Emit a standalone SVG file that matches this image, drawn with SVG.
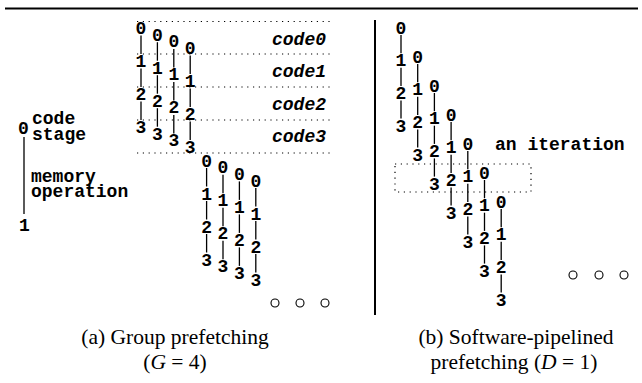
<svg xmlns="http://www.w3.org/2000/svg" width="642" height="383" viewBox="0 0 642 383">
<style>
.d{font-family:"Liberation Mono",monospace;font-weight:bold;font-size:18px;text-anchor:middle;fill:#000}
.l{font-family:"Liberation Mono",monospace;font-weight:bold;font-size:18px;fill:#000}
.c{font-family:"Liberation Mono",monospace;font-weight:bold;font-style:italic;font-size:18px;fill:#000}
.cap{font-family:"Liberation Serif",serif;font-size:21.5px;text-anchor:middle;fill:#000}
.dot{stroke:#000;stroke-width:1.2;stroke-dasharray:1.2 4.6;fill:none}
.cn line{stroke:#000;stroke-width:1.3}
.e{fill:none;stroke:#000;stroke-width:1.1}
.rule{stroke:#000;fill:none}
</style>
<line class="rule" x1="5" y1="8.5" x2="638" y2="8.5" stroke-width="2.2"/>
<line class="rule" x1="375" y1="20" x2="375" y2="315" stroke-width="2"/>

<g id="legend">
<text class="d" x="23.5" y="134">0</text>
<text class="d" x="24.5" y="231">1</text>
<text class="l" x="32" y="124">code</text>
<text class="l" x="32" y="140">stage</text>
<text class="l" x="31" y="182">memory</text>
<text class="l" x="31" y="197">operation</text>
</g>

<g id="stage-lines">
<line class="dot" x1="137" y1="21.5" x2="330" y2="21.5"/>
<line class="dot" x1="137" y1="54" x2="330" y2="54"/>
<line class="dot" x1="137" y1="87" x2="330" y2="87"/>
<line class="dot" x1="137" y1="120" x2="330" y2="120"/>
<line class="dot" x1="137" y1="153" x2="330" y2="153"/>
<text class="c" x="272" y="45">code0</text>
<text class="c" x="272" y="77">code1</text>
<text class="c" x="272" y="110">code2</text>
<text class="c" x="272" y="142">code3</text>
</g>

<g transform="translate(0 1)">
<g id="a-g0-i0"><text class="d" x="141" y="33">0</text><text class="d" x="141" y="66">1</text><text class="d" x="141" y="99">2</text><text class="d" x="141" y="132">3</text></g>
<g id="a-g0-i1"><text class="d" x="157.4" y="39.7">0</text><text class="d" x="157.4" y="72.7">1</text><text class="d" x="157.4" y="105.7">2</text><text class="d" x="157.4" y="138.7">3</text></g>
<g id="a-g0-i2"><text class="d" x="173.8" y="46.4">0</text><text class="d" x="173.8" y="79.4">1</text><text class="d" x="173.8" y="112.4">2</text><text class="d" x="173.8" y="145.4">3</text></g>
<g id="a-g0-i3"><text class="d" x="190.2" y="53.1">0</text><text class="d" x="190.2" y="86.1">1</text><text class="d" x="190.2" y="119.1">2</text><text class="d" x="190.2" y="152.1">3</text></g>
<g id="a-g1-i0"><text class="d" x="206.6" y="165.5">0</text><text class="d" x="206.6" y="198.5">1</text><text class="d" x="206.6" y="231.5">2</text><text class="d" x="206.6" y="264.5">3</text></g>
<g id="a-g1-i1"><text class="d" x="223" y="172.2">0</text><text class="d" x="223" y="205.2">1</text><text class="d" x="223" y="238.2">2</text><text class="d" x="223" y="271.2">3</text></g>
<g id="a-g1-i2"><text class="d" x="239.4" y="178.9">0</text><text class="d" x="239.4" y="211.9">1</text><text class="d" x="239.4" y="244.9">2</text><text class="d" x="239.4" y="277.9">3</text></g>
<g id="a-g1-i3"><text class="d" x="255.8" y="185.6">0</text><text class="d" x="255.8" y="218.6">1</text><text class="d" x="255.8" y="251.6">2</text><text class="d" x="255.8" y="284.6">3</text></g>

<g id="b-i0"><text class="d" x="401" y="32.5">0</text><text class="d" x="401" y="65.2">1</text><text class="d" x="401" y="97.9">2</text><text class="d" x="401" y="130.6">3</text></g>
<g id="b-i1"><text class="d" x="417.7" y="61.5">0</text><text class="d" x="417.7" y="94.2">1</text><text class="d" x="417.7" y="126.9">2</text><text class="d" x="417.7" y="159.6">3</text></g>
<g id="b-i2"><text class="d" x="434.4" y="90.5">0</text><text class="d" x="434.4" y="123.2">1</text><text class="d" x="434.4" y="155.9">2</text><text class="d" x="434.4" y="188.6">3</text></g>
<g id="b-i3"><text class="d" x="451.1" y="119.5">0</text><text class="d" x="451.1" y="152.2">1</text><text class="d" x="451.1" y="184.9">2</text><text class="d" x="451.1" y="217.6">3</text></g>
<g id="b-i4"><text class="d" x="467.8" y="148.5">0</text><text class="d" x="467.8" y="181.2">1</text><text class="d" x="467.8" y="213.9">2</text><text class="d" x="467.8" y="246.6">3</text></g>
<g id="b-i5"><text class="d" x="484.5" y="177.5">0</text><text class="d" x="484.5" y="210.2">1</text><text class="d" x="484.5" y="242.9">2</text><text class="d" x="484.5" y="275.6">3</text></g>
<g id="b-i6"><text class="d" x="501.2" y="206.5">0</text><text class="d" x="501.2" y="239.2">1</text><text class="d" x="501.2" y="271.9">2</text><text class="d" x="501.2" y="304.6">3</text></g>
</g>
<g id="a-more"><circle class="e" cx="275" cy="303" r="4"/><circle class="e" cx="300" cy="303" r="4"/><circle class="e" cx="325" cy="303" r="4"/></g>
<g id="b-iteration"><rect class="dot" x="395" y="164" width="136" height="28"/><text class="l" x="495" y="150">an iteration</text></g>
<g id="b-more"><circle class="e" cx="573" cy="275" r="4"/><circle class="e" cx="599" cy="275" r="4"/><circle class="e" cx="624" cy="275" r="4"/></g>

<g id="connectors" class="cn">
<line x1="24" y1="137" x2="24" y2="214"/>
<line x1="141" y1="35.5" x2="141" y2="54"/><line x1="141" y1="68.5" x2="141" y2="87"/><line x1="141" y1="101.5" x2="141" y2="120"/>
<line x1="157.4" y1="42.2" x2="157.4" y2="60.7"/><line x1="157.4" y1="75.2" x2="157.4" y2="93.7"/><line x1="157.4" y1="108.2" x2="157.4" y2="126.7"/>
<line x1="173.8" y1="48.9" x2="173.8" y2="67.4"/><line x1="173.8" y1="81.9" x2="173.8" y2="100.4"/><line x1="173.8" y1="114.9" x2="173.8" y2="133.4"/>
<line x1="190.2" y1="55.6" x2="190.2" y2="74.1"/><line x1="190.2" y1="88.6" x2="190.2" y2="107.1"/><line x1="190.2" y1="121.6" x2="190.2" y2="140.1"/>
<line x1="206.6" y1="168" x2="206.6" y2="186.5"/><line x1="206.6" y1="201" x2="206.6" y2="219.5"/><line x1="206.6" y1="234" x2="206.6" y2="252.5"/>
<line x1="223" y1="174.7" x2="223" y2="193.2"/><line x1="223" y1="207.7" x2="223" y2="226.2"/><line x1="223" y1="240.7" x2="223" y2="259.2"/>
<line x1="239.4" y1="181.4" x2="239.4" y2="199.9"/><line x1="239.4" y1="214.4" x2="239.4" y2="232.9"/><line x1="239.4" y1="247.4" x2="239.4" y2="265.9"/>
<line x1="255.8" y1="188.1" x2="255.8" y2="206.6"/><line x1="255.8" y1="221.1" x2="255.8" y2="239.6"/><line x1="255.8" y1="254.1" x2="255.8" y2="272.6"/>
<line x1="401" y1="35" x2="401" y2="53.2"/><line x1="401" y1="67.7" x2="401" y2="85.9"/><line x1="401" y1="100.4" x2="401" y2="118.6"/>
<line x1="417.7" y1="64" x2="417.7" y2="82.2"/><line x1="417.7" y1="96.7" x2="417.7" y2="114.9"/><line x1="417.7" y1="129.4" x2="417.7" y2="147.6"/>
<line x1="434.4" y1="93" x2="434.4" y2="111.2"/><line x1="434.4" y1="125.7" x2="434.4" y2="143.9"/><line x1="434.4" y1="158.4" x2="434.4" y2="176.6"/>
<line x1="451.1" y1="122" x2="451.1" y2="140.2"/><line x1="451.1" y1="154.7" x2="451.1" y2="172.9"/><line x1="451.1" y1="187.4" x2="451.1" y2="205.6"/>
<line x1="467.8" y1="151" x2="467.8" y2="169.2"/><line x1="467.8" y1="183.7" x2="467.8" y2="201.9"/><line x1="467.8" y1="216.4" x2="467.8" y2="234.6"/>
<line x1="484.5" y1="180" x2="484.5" y2="198.2"/><line x1="484.5" y1="212.7" x2="484.5" y2="230.9"/><line x1="484.5" y1="245.4" x2="484.5" y2="263.6"/>
<line x1="501.2" y1="209" x2="501.2" y2="227.2"/><line x1="501.2" y1="241.7" x2="501.2" y2="259.9"/><line x1="501.2" y1="274.4" x2="501.2" y2="292.6"/>
</g>

<g id="captions">
<text class="cap" x="175" y="344">(a) Group prefetching</text>
<text class="cap" x="175" y="369">(<tspan font-style="italic">G</tspan> = 4)</text>
<text class="cap" x="516" y="344">(b) Software-pipelined</text>
<text class="cap" x="514" y="369">prefetching (<tspan font-style="italic">D</tspan> = 1)</text>
</g>
</svg>
